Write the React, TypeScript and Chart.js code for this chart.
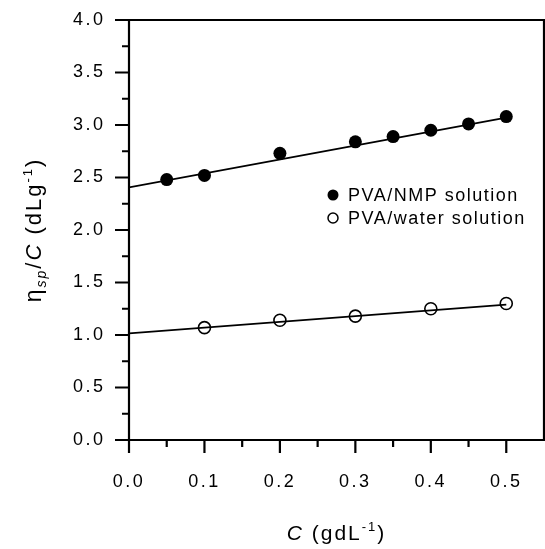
import React, { useEffect, useRef } from 'react';
import { Chart, registerables } from 'chart.js';

Chart.register(...registerables);

const nmpC = [0.05, 0.1, 0.2, 0.3, 0.35, 0.4, 0.45, 0.5];
const nmpEta = [2.48, 2.52, 2.73, 2.84, 2.89, 2.95, 3.01, 3.08];
const waterC = [0.1, 0.2, 0.3, 0.4, 0.5];
const waterEta = [1.07, 1.14, 1.18, 1.25, 1.3];
const nmpFitC = [0, 0.5];
const nmpFitEta = [2.405, 3.07];
const waterFitC = [0, 0.5];
const waterFitEta = [1.015, 1.29];
const xTickValues = [0, 0.1, 0.2, 0.3, 0.4, 0.5];
const xMinorValues = [0.05, 0.15, 0.25, 0.35, 0.45];
const yTickValues = [0, 0.5, 1.0, 1.5, 2.0, 2.5, 3.0, 3.5, 4.0];
const yMinorValues = [0.25, 0.75, 1.25, 1.75, 2.25, 2.75, 3.25, 3.75];
const legendLabels = ['PVA/NMP solution', 'PVA/water solution'];

const FONT = '"Liberation Sans", Arial, Helvetica, sans-serif';

type Seg = { t: string; f: string; dy: number };

function drawRich(ctx: CanvasRenderingContext2D, segs: Seg[], cx: number, cy: number) {
  let total = 0;
  for (const s of segs) {
    ctx.font = s.f;
    total += ctx.measureText(s.t).width;
  }
  let x = cx - total / 2;
  ctx.textAlign = 'left';
  ctx.textBaseline = 'alphabetic';
  for (const s of segs) {
    ctx.font = s.f;
    ctx.fillText(s.t, x, cy + s.dy);
    x += ctx.measureText(s.t).width;
  }
}

const decorPlugin = {
  id: 'decor',
  beforeDraw(chart: any) {
    (chart.ctx as any).letterSpacing = '2.5px';
  },
  afterDraw(chart: any) {
    const ctx: CanvasRenderingContext2D = chart.ctx;
    const { left, right, top, bottom } = chart.chartArea;
    const xs = chart.scales.x;
    const ys = chart.scales.y;
    ctx.save();
    ctx.strokeStyle = '#000';
    ctx.fillStyle = '#000';
    ctx.lineWidth = 2.2;
    ctx.lineCap = 'butt';
    // frame
    ctx.beginPath();
    ctx.moveTo(left, bottom);
    ctx.lineTo(left, top);
    ctx.lineTo(right, top);
    ctx.lineTo(right, bottom);
    ctx.lineTo(left, bottom);
    ctx.stroke();
    // ticks
    ctx.beginPath();
    for (const v of yTickValues) {
      const y = ys.getPixelForValue(v);
      ctx.moveTo(left, y);
      ctx.lineTo(left - 14, y);
    }
    for (const v of yMinorValues) {
      const y = ys.getPixelForValue(v);
      ctx.moveTo(left, y);
      ctx.lineTo(left - 7, y);
    }
    for (const v of xTickValues) {
      const x = xs.getPixelForValue(v);
      ctx.moveTo(x, bottom);
      ctx.lineTo(x, bottom + 13);
    }
    for (const v of xMinorValues) {
      const x = xs.getPixelForValue(v);
      ctx.moveTo(x, bottom);
      ctx.lineTo(x, bottom + 7);
    }
    ctx.stroke();

    // legend
    (ctx as any).letterSpacing = '1.5px';
    ctx.font = `18px ${FONT}`;
    ctx.textAlign = 'left';
    ctx.textBaseline = 'middle';
    const lx = 333;
    const ly = [195, 218];
    ctx.beginPath();
    ctx.arc(lx, ly[0], 5.5, 0, Math.PI * 2);
    ctx.fill();
    ctx.lineWidth = 1.5;
    ctx.beginPath();
    ctx.arc(lx, ly[1], 5, 0, Math.PI * 2);
    ctx.stroke();
    ctx.fillText(legendLabels[0], 348, ly[0] + 1);
    ctx.fillText(legendLabels[1], 348, ly[1] + 1);

    // axis titles
    (ctx as any).letterSpacing = '2px';
    drawRich(
      ctx,
      [
        { t: 'C', f: `italic 21px ${FONT}`, dy: 0 },
        { t: ' (gdL', f: `21px ${FONT}`, dy: 0 },
        { t: '-1', f: `13px ${FONT}`, dy: -9 },
        { t: ')', f: `21px ${FONT}`, dy: 0 },
      ],
      (left + right) / 2,
      540
    );
    ctx.save();
    ctx.translate(41, (top + bottom) / 2);
    ctx.rotate(-Math.PI / 2);
    drawRich(
      ctx,
      [
        { t: 'η', f: `23px ${FONT}`, dy: 0 },
        { t: 'sp', f: `italic 14px ${FONT}`, dy: 5 },
        { t: '/', f: `22px ${FONT}`, dy: 0 },
        { t: 'C', f: `italic 22px ${FONT}`, dy: 0 },
        { t: ' (dLg', f: `22px ${FONT}`, dy: 0 },
        { t: '-1', f: `13px ${FONT}`, dy: -9 },
        { t: ')', f: `22px ${FONT}`, dy: 0 },
      ],
      0,
      0
    );
    ctx.restore();
    ctx.restore();
  },
};

export default function App() {
  const ref = useRef<HTMLCanvasElement>(null);
  useEffect(() => {
    if (!ref.current) return;
    const pts = (xs: number[], ys: number[]) => xs.map((x, i) => ({ x, y: ys[i] }));
    const chart = new Chart(ref.current, {
      type: 'scatter',
      data: {
        datasets: [
          {
            label: 'NMP fit',
            data: pts(nmpFitC, nmpFitEta),
            showLine: true,
            borderColor: '#000',
            borderWidth: 1.8,
            pointRadius: 0,
          },
          {
            label: 'water fit',
            data: pts(waterFitC, waterFitEta),
            showLine: true,
            borderColor: '#000',
            borderWidth: 1.8,
            pointRadius: 0,
          },
          {
            label: legendLabels[0],
            data: pts(nmpC, nmpEta),
            pointRadius: 6.5,
            backgroundColor: '#000',
            borderColor: '#000',
            borderWidth: 0,
          },
          {
            label: legendLabels[1],
            data: pts(waterC, waterEta),
            pointRadius: 6,
            backgroundColor: 'rgba(0,0,0,0)',
            borderColor: '#000',
            borderWidth: 1.6,
          },
        ],
      },
      options: {
        animation: false,
        responsive: false,
        maintainAspectRatio: false,
        layout: { autoPadding: false, padding: { top: 20, right: 1, left: 0, bottom: 0 } },
        plugins: { legend: { display: false }, tooltip: { enabled: false } },
        scales: {
          x: {
            type: 'linear',
            min: 0,
            max: 0.55,
            afterBuildTicks: (s: any) => {
              s.ticks = xTickValues.map((v) => ({ value: v }));
            },
            afterFit: (s: any) => {
              s.height = 109;
              s.paddingLeft = 0;
              s.paddingRight = 0;
              s.paddingTop = 0;
              s.paddingBottom = 0;
            },
            grid: { drawOnChartArea: false, drawTicks: false },
            border: { display: false },
            ticks: {
              padding: 31,
              color: '#000',
              font: { family: FONT, size: 18 },
              maxRotation: 0,
              callback: (v: any) => Number(v).toFixed(1),
            },
          },
          y: {
            type: 'linear',
            min: 0,
            max: 4,
            afterBuildTicks: (s: any) => {
              s.ticks = yTickValues.map((v) => ({ value: v }));
            },
            afterFit: (s: any) => {
              s.width = 129;
              s.paddingLeft = 0;
              s.paddingRight = 0;
              s.paddingTop = 0;
              s.paddingBottom = 0;
            },
            grid: { drawOnChartArea: false, drawTicks: false },
            border: { display: false },
            ticks: {
              padding: 23.5,
              color: '#000',
              font: { family: FONT, size: 18 },
              callback: (v: any) => Number(v).toFixed(1),
            },
          },
        },
      },
      plugins: [decorPlugin],
    });
    return () => chart.destroy();
  }, []);
  return (
    <div style={{ position: 'absolute', left: 0, top: 0, width: 545, height: 549, background: '#fff' }}>
      <canvas ref={ref} width={545} height={549} style={{ width: 545, height: 549 }} />
    </div>
  );
}
